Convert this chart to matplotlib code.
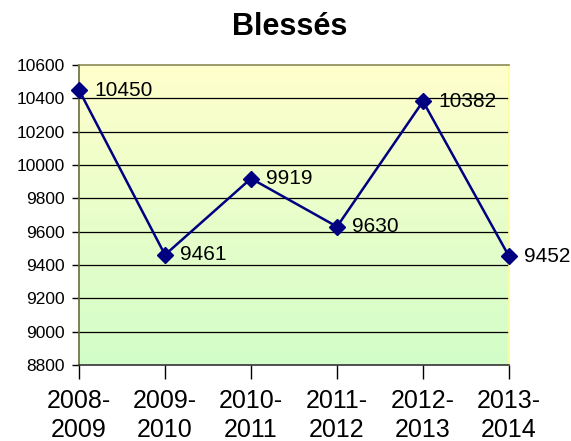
import numpy as np
import matplotlib.pyplot as plt
from matplotlib.colors import LinearSegmentedColormap

plt.rcParams['font.family'] = ['Liberation Sans', 'DejaVu Sans']

# Data
seasons = ['2008-\n2009', '2009-\n2010', '2010-\n2011', '2011-\n2012', '2012-\n2013', '2013-\n2014']
blesses = [10450, 9461, 9919, 9630, 10382, 9452]
y_ticks = list(range(8800, 10601, 200))

fig = plt.figure(figsize=(5.71, 4.41), dpi=100)
ax = fig.add_axes([79 / 571, 1 - 365 / 441, (509 - 79) / 571, (365 - 65) / 441])

x = np.arange(len(seasons))
ax.set_xlim(0, len(seasons) - 1)
ax.set_ylim(8800, 10600)

# Gradient background: yellow on top to light green at bottom
cmap = LinearSegmentedColormap.from_list('bg', ['#d2fdc8', '#ffffcc'])
grad = np.linspace(0, 1, 256).reshape(-1, 1)
ax.imshow(grad, cmap=cmap, aspect='auto', origin='lower',
          extent=[0, len(seasons) - 1, 8800, 10600], zorder=0)

for t in y_ticks[1:-1]:
    ax.axhline(t, color='black', linewidth=0.9, zorder=1)

ax.plot(x, blesses, color='#000080', linewidth=1.8, marker='D',
        markersize=8, zorder=3, clip_on=False)

for xi, v in zip(x, blesses):
    ax.annotate(str(v), (xi, v), xytext=(11, 0), textcoords='offset points',
                va='center', ha='left', fontsize=15, annotation_clip=False)

ax.set_yticks(y_ticks)
ax.set_xticks(x)
ax.set_xticklabels(seasons, fontsize=18, linespacing=1.28)
ax.tick_params(axis='y', labelsize=12.5, length=5, width=1, direction='out', pad=5)
ax.tick_params(axis='x', length=10, width=1, direction='out', pad=7)

ax.spines['left'].set_color('#6b6b3a')
ax.spines['top'].set_color('#8a8a55')
ax.spines['bottom'].set_color('#333333')
ax.spines['right'].set_color('#ffff99')
for s in ax.spines.values():
    s.set_linewidth(1.2)

fig.text(0.508, 1 - 27 / 441, 'Blessés', ha='center', va='center',
         fontsize=22, fontweight='bold')

fig.savefig('out.png', dpi=100)
